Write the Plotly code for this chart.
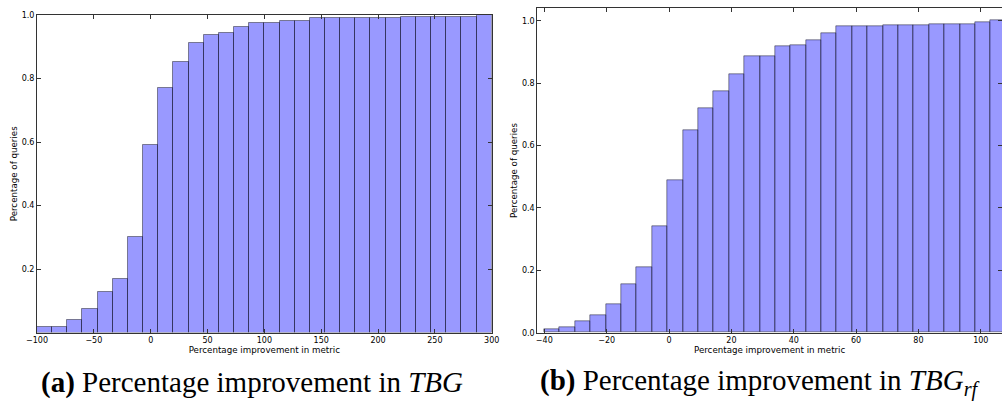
import plotly.graph_objects as go

# ---------------- data ----------------
# (a) cumulative fraction of queries per bin, 30 bins from -100 to 300
tbg_bin_start = -100.0
tbg_bin_width = 400.0 / 30
tbg_values = [0.019, 0.019, 0.039, 0.075, 0.129, 0.169, 0.300, 0.590, 0.770, 0.852,
              0.912, 0.937, 0.942, 0.961, 0.975, 0.975, 0.980, 0.980, 0.989, 0.989,
              0.989, 0.989, 0.989, 0.989, 0.993, 0.993, 0.993, 0.993, 0.993, 1.000]
tbg_xticks = [-100, -50, 0, 50, 100, 150, 200, 250, 300]
tbg_yticks = [0.2, 0.4, 0.6, 0.8, 1.0]

# (b) cumulative fraction of queries per bin, 30 bins from -40
rf_bin_start = -40.0
rf_bin_width = 4.937
rf_values = [0.012, 0.018, 0.037, 0.057, 0.092, 0.156, 0.211, 0.341, 0.490, 0.650,
             0.721, 0.775, 0.830, 0.886, 0.886, 0.917, 0.921, 0.937, 0.960, 0.981,
             0.981, 0.981, 0.985, 0.985, 0.985, 0.990, 0.990, 0.990, 0.996, 1.000]
rf_xticks = [-40, -20, 0, 20, 40, 60, 80, 100]
rf_yticks = [0.0, 0.2, 0.4, 0.6, 0.8, 1.0]

x_title = "Percentage improvement in metric"
y_title = "Percentage of queries"
caption_a = "<b>(a)</b> Percentage improvement in <i>TBG</i>"
caption_b = "<b>(b)</b> Percentage improvement in <i>TBG<sub>rf</sub></i>"

# ---------------- figure ----------------
W, H = 1002, 403
FILL = "rgba(0,0,255,0.4)"
EDGE = "rgba(0,0,0,0.42)"

def centers(start, width, n):
    return [start + width * (i + 0.5) for i in range(n)]

fig = go.Figure()
fig.add_trace(go.Bar(
    x=centers(tbg_bin_start, tbg_bin_width, len(tbg_values)), y=tbg_values,
    width=tbg_bin_width, marker=dict(color=FILL, line=dict(color=EDGE, width=1)),
    xaxis="x", yaxis="y", showlegend=False, hoverinfo="x+y"))
fig.add_trace(go.Bar(
    x=centers(rf_bin_start, rf_bin_width, len(rf_values)), y=rf_values,
    width=rf_bin_width, marker=dict(color=FILL, line=dict(color=EDGE, width=1)),
    xaxis="x2", yaxis="y2", showlegend=False, hoverinfo="x+y"))

def px_x(p):
    return p / W

def px_y(p):
    return (H - p) / H

tick_font = dict(family="DejaVu Sans", size=8, color="#000")
title_font = dict(family="DejaVu Sans", size=8.7, color="#000")
axis_common = dict(showline=True, linecolor="#333", linewidth=1, mirror="ticks",
                   ticks="inside", ticklen=4, tickcolor="#333", tickwidth=1,
                   showgrid=False, zeroline=False, tickfont=tick_font,
                   automargin=False)

fig.update_layout(
    template="none",
    width=W, height=H, margin=dict(l=0, r=0, t=0, b=0, pad=0, autoexpand=False),
    paper_bgcolor="white", plot_bgcolor="white", bargap=0,
    xaxis=dict(domain=[px_x(37), px_x(491.7)], range=[-100, 300], anchor="y",
               tickvals=tbg_xticks, title=dict(text=x_title, font=title_font, standoff=1),
               **axis_common),
    yaxis=dict(domain=[px_y(332.6), px_y(15)], range=[0, 1.0], anchor="x",
               tickvals=tbg_yticks, tickformat=".1f",
               title=dict(text=y_title, font=title_font, standoff=2), **axis_common),
    xaxis2=dict(domain=[px_x(537.3), 1.0], range=[-42.25, 106.8], anchor="y2",
                tickvals=rf_xticks, title=dict(text=x_title, font=title_font, standoff=1),
                **axis_common),
    yaxis2=dict(domain=[px_y(332.7), px_y(8.3)], range=[0, 1.04], anchor="x2",
                tickvals=rf_yticks, tickformat=".1f",
                title=dict(text=y_title, font=title_font, standoff=2), **axis_common),
    annotations=[
        dict(text=caption_a, x=px_x(252), y=px_y(382.5), xref="paper", yref="paper",
             xanchor="center", yanchor="middle", showarrow=False,
             font=dict(family="Liberation Serif", size=29, color="#000")),
        dict(text=caption_b, x=px_x(760), y=px_y(382.5), xref="paper", yref="paper",
             xanchor="center", yanchor="middle", showarrow=False,
             font=dict(family="Liberation Serif", size=29, color="#000")),
    ],
)

fig.write_html(
    "out.html",
    config={"displayModeBar": False},
    post_script="document.body.style.margin='0';document.body.style.overflow='hidden';",
)
